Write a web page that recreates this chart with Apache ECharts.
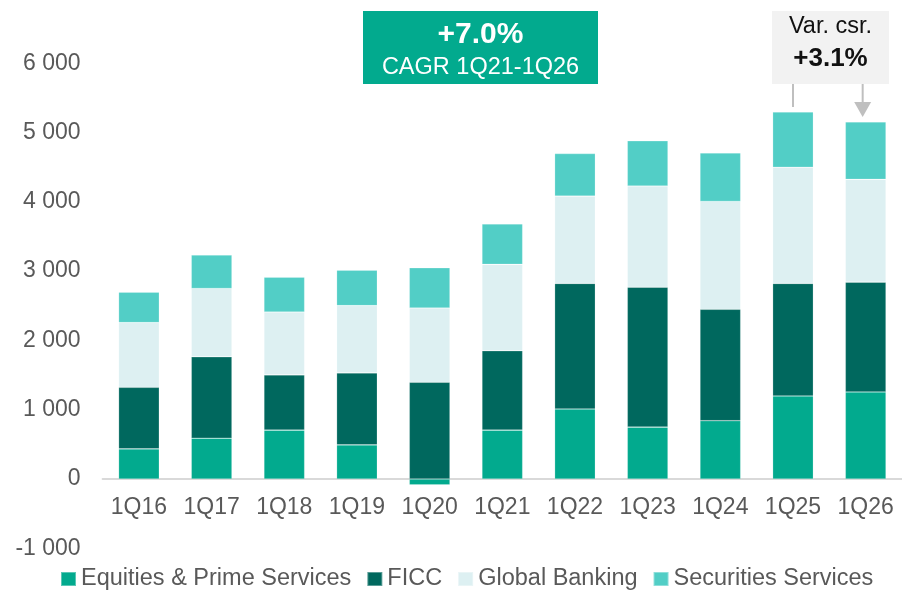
<!DOCTYPE html>
<html>
<head>
<meta charset="utf-8">
<script src="https://cdn.jsdelivr.net/npm/echarts@6/dist/echarts.min.js"></script>
<style>
html,body{margin:0;padding:0;background:#fff;}
#chart{width:902px;height:591px;}
</style>
</head>
<body>
<div id="chart"></div>
<script>
const categories = ['1Q16','1Q17','1Q18','1Q19','1Q20','1Q21','1Q22','1Q23','1Q24','1Q25','1Q26'];
const equities = [435, 589, 705, 492, -85, 705, 1010, 749, 841, 1198, 1256];
const ficc = [888, 1174, 798, 1039, 1396, 1146, 1812, 2019, 1608, 1624, 1585];
const globalBanking = [934, 986, 907, 971, 1072, 1246, 1260, 1460, 1556, 1676, 1483];
const securities = [438, 483, 503, 512, 580, 584, 614, 652, 700, 797, 830];
const seriesNames = ['Equities & Prime Services','FICC','Global Banking','Securities Services'];
const colors = ['#02AA8E','#00685E','#DDF0F2','#52CEC6'];
const yTicks = { min: -1000, max: 6000, interval: 1000 };
const cagrText = ['+7.0%','CAGR 1Q21-1Q26'];
const varText = ['Var. csr.','+3.1%'];

const FONT = '"Liberation Sans", Arial, sans-serif';
const chart = echarts.init(document.getElementById('chart'), null, {renderer:'canvas'});
const dataSets = [equities, ficc, globalBanking, securities];

function fmt(v){
  const s = Math.abs(v).toString().replace(/\B(?=(\d{3})+(?!\d))/g,' ');
  return (v < 0 ? '-' : '') + s;
}

const gridTop = 63.2, gridBottom = 42.7;
chart.setOption({
  animation:false,
  color: colors,
  textStyle:{fontFamily:FONT},
  grid:{left:102.6, width:801, top:gridTop, bottom:gridBottom, containLabel:false},
  legend:{
    left:60, top:567, padding:0, itemWidth:15, itemHeight:14, itemGap:15,
    icon:'rect',
    textStyle:{fontFamily:FONT, fontSize:23.5, color:'#595959'},
    data: seriesNames
  },
  xAxis:{
    type:'category', data:categories
  },
  yAxis:{
    type:'value', min:yTicks.min, max:yTicks.max, interval:yTicks.interval,
    axisLine:{show:false}, axisTick:{show:false}, splitLine:{show:false},
    axisLabel:{fontFamily:FONT, fontSize:23, color:'#595959', margin:22, formatter:fmt}
  },
  series: seriesNames.map((n,i)=>({
    name:n, type:'bar', stack:'total', barWidth:'56%',
    data:dataSets[i],
    itemStyle:{color:colors[i], borderColor:'rgba(255,255,255,0.35)', borderWidth:0.6}
  }))
});

// place the category axis on the zero line (computed from the value scale)
const yZero = chart.convertToPixel({yAxisIndex:0}, 0);
const yBottom = chart.convertToPixel({yAxisIndex:0}, yTicks.min);
const x25 = chart.convertToPixel({xAxisIndex:0}, '1Q25');
const x26 = chart.convertToPixel({xAxisIndex:0}, '1Q26');

chart.setOption({
  xAxis:{
    offset: -(yBottom - yZero),
    axisLine:{onZero:false, lineStyle:{color:'#D9D9D9', width:2}},
    axisTick:{show:false},
    axisLabel:{fontFamily:FONT, fontSize:23, color:'#595959', margin:17.5, interval:0}
  },
  graphic:[
    {type:'rect', shape:{x:363, y:11, width:235, height:73}, style:{fill:'#02AA8E'}},
    {type:'text', x:480.5, y:34.5, style:{text:cagrText[0], font:'bold 30px '+FONT, fill:'#fff', align:'center', verticalAlign:'middle'}},
    {type:'text', x:480.5, y:68, style:{text:cagrText[1], font:'23.5px '+FONT, fill:'#fff', align:'center', verticalAlign:'middle'}},
    {type:'rect', shape:{x:772, y:11, width:117, height:73}, style:{fill:'#F2F2F2'}},
    {type:'text', x:830.5, y:27, style:{text:varText[0], font:'23.5px '+FONT, fill:'#111', align:'center', verticalAlign:'middle'}},
    {type:'text', x:830.5, y:59, style:{text:varText[1], font:'bold 26px '+FONT, fill:'#111', align:'center', verticalAlign:'middle'}},
    {type:'line', shape:{x1:x25, y1:84, x2:x25, y2:107}, style:{stroke:'#BFBFBF', lineWidth:2}},
    {type:'line', shape:{x1:x26-3, y1:84, x2:x26-3, y2:103}, style:{stroke:'#BFBFBF', lineWidth:2}},
    {type:'polygon', shape:{points:[[x26-11.5,102],[x26+5.5,102],[x26-3,117]]}, style:{fill:'#BFBFBF'}}
  ]
});
</script>
</body>
</html>
